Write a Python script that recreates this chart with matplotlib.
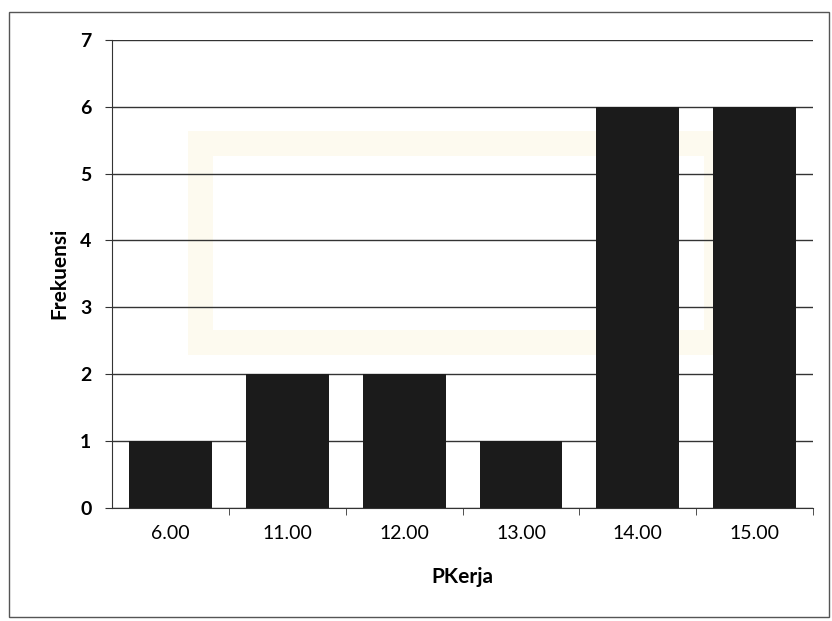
import matplotlib.pyplot as plt
import matplotlib.ticker as ticker
from matplotlib.patches import Rectangle
import numpy as np

kategori = ['6.00', '11.00', '12.00', '13.00', '14.00', '15.00']
frekuensi = [1, 2, 2, 1, 6, 6]

plt.rcParams['font.family'] = ['Lato', 'DejaVu Sans']

fig = plt.figure(figsize=(8.32, 6.21), dpi=100)
fig.patch.set_facecolor('white')

# pale frame behind the axes
fig.patches.append(Rectangle((0.24, 0.45), 0.62, 0.32, transform=fig.transFigure,
                             fill=False, edgecolor='#fdfaef', linewidth=18, zorder=-2))

# outer chart border
fig.patches.append(Rectangle((0.011, 0.006), 0.985, 0.975, transform=fig.transFigure,
                             fill=False, edgecolor='#555555', linewidth=1.0, zorder=1))

ax = fig.add_axes([0.135, 0.182, 0.842, 0.754])
ax.patch.set_alpha(0)
x_pos = np.arange(len(kategori))
ax.bar(x_pos, frekuensi, width=0.71, color='#1b1b1b', zorder=3)

ax.set_xlim(-0.5, len(kategori) - 0.5)
ax.set_ylim(0, 7)
ax.yaxis.set_major_locator(ticker.MultipleLocator(1))
ax.grid(axis='y', color='#333333', linewidth=1.0, zorder=1)

ax.set_xticks(x_pos)
ax.set_xticklabels(kategori)
ax.set_xticks(np.arange(0.5, len(kategori)), minor=True)
ax.tick_params(axis='x', which='major', length=0, pad=12, labelsize=14)
ax.tick_params(axis='x', which='minor', length=5, direction='out', color='#333333')
ax.tick_params(axis='y', length=5, direction='out', labelsize=14, pad=10, color='#333333')
for lbl in ax.get_yticklabels():
    lbl.set_fontweight('bold')

for side in ['top', 'right']:
    ax.spines[side].set_visible(False)
ax.spines['left'].set_color('#333333')
ax.spines['bottom'].set_color('#333333')

ax.set_xlabel('PKerja', fontsize=15, fontweight='bold', labelpad=18)
ax.set_ylabel('Frekuensi', fontsize=15, fontweight='bold', labelpad=8)

plt.savefig('out.png', dpi=100)
